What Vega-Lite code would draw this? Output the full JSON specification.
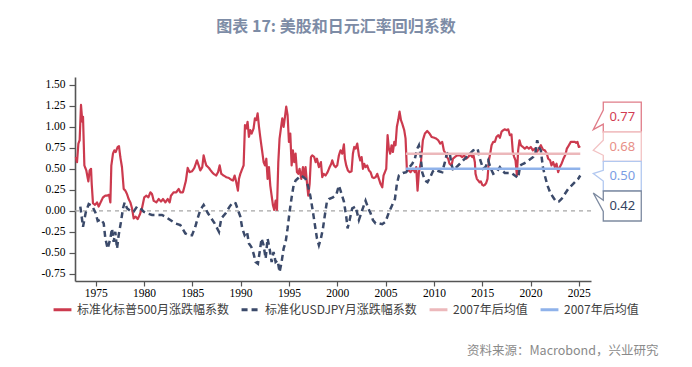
{
  "$schema": "https://vega.github.io/schema/vega-lite/v6.json",
  "width": 516,
  "height": 204,
  "autosize": {"type": "none"},
  "padding": {"left": 75, "top": 77, "right": 101, "bottom": 86},
  "background": "white",
  "title": {
    "text": "图表 17: 美股和日元汇率回归系数",
    "anchor": "middle",
    "frame": "group",
    "font": "Noto Sans CJK SC",
    "fontSize": 16,
    "fontWeight": "bold",
    "color": "#7d8ca6",
    "offset": 42,
    "dx": 3
  },
  "datasets": {
    "spx": [
      {"t":1972.95,"v":0.64},{"t":1973.07,"v":0.58},{"t":1973.21,"v":0.80},{"t":1973.34,"v":0.84},{"t":1973.48,"v":1.26},{"t":1973.62,"v":1.06},{"t":1973.69,"v":1.12},{"t":1973.83,"v":0.54},{"t":1974.03,"v":0.48},{"t":1974.24,"v":0.35},{"t":1974.38,"v":0.48},{"t":1974.52,"v":0.50},{"t":1974.59,"v":0.32},{"t":1974.72,"v":0.09},{"t":1974.93,"v":0.07},{"t":1975.14,"v":0.10},{"t":1975.31,"v":0.05},{"t":1975.55,"v":0.11},{"t":1975.76,"v":0.16},{"t":1976.00,"v":0.18},{"t":1976.17,"v":0.18},{"t":1976.38,"v":0.19},{"t":1976.52,"v":0.10},{"t":1976.62,"v":0.54},{"t":1976.79,"v":0.68},{"t":1976.93,"v":0.72},{"t":1977.07,"v":0.70},{"t":1977.28,"v":0.76},{"t":1977.41,"v":0.77},{"t":1977.55,"v":0.64},{"t":1977.72,"v":0.52},{"t":1977.90,"v":0.26},{"t":1978.07,"v":0.24},{"t":1978.24,"v":0.20},{"t":1978.41,"v":0.14},{"t":1978.59,"v":0.10},{"t":1978.76,"v":0.03},{"t":1978.93,"v":-0.09},{"t":1979.14,"v":-0.07},{"t":1979.34,"v":-0.10},{"t":1979.55,"v":-0.05},{"t":1979.79,"v":0.03},{"t":1980.03,"v":0.16},{"t":1980.24,"v":0.18},{"t":1980.45,"v":0.16},{"t":1980.66,"v":0.22},{"t":1980.83,"v":0.20},{"t":1981.00,"v":0.12},{"t":1981.28,"v":0.10},{"t":1981.52,"v":0.14},{"t":1981.76,"v":0.11},{"t":1981.97,"v":0.14},{"t":1982.21,"v":0.10},{"t":1982.45,"v":0.14},{"t":1982.66,"v":0.10},{"t":1982.79,"v":0.18},{"t":1983.07,"v":0.22},{"t":1983.34,"v":0.22},{"t":1983.59,"v":0.26},{"t":1983.76,"v":0.22},{"t":1984.03,"v":0.22},{"t":1984.21,"v":0.30},{"t":1984.34,"v":0.36},{"t":1984.52,"v":0.51},{"t":1984.72,"v":0.46},{"t":1984.97,"v":0.47},{"t":1985.21,"v":0.51},{"t":1985.48,"v":0.60},{"t":1985.66,"v":0.54},{"t":1985.83,"v":0.48},{"t":1986.03,"v":0.52},{"t":1986.17,"v":0.66},{"t":1986.34,"v":0.58},
      {"t":1986.45,"v":0.54},{"t":1986.72,"v":0.51},{"t":1986.97,"v":0.47},{"t":1987.21,"v":0.44},{"t":1987.48,"v":0.42},{"t":1987.66,"v":0.46},{"t":1987.83,"v":0.54},{"t":1988.00,"v":0.44},{"t":1988.24,"v":0.42},{"t":1988.52,"v":0.40},{"t":1988.79,"v":0.39},{"t":1989.03,"v":0.37},{"t":1989.21,"v":0.36},{"t":1989.38,"v":0.42},{"t":1989.55,"v":0.34},{"t":1989.72,"v":0.24},{"t":1989.83,"v":0.38},{"t":1989.97,"v":0.44},{"t":1990.17,"v":0.50},{"t":1990.31,"v":0.54},{"t":1990.45,"v":1.02},{"t":1990.59,"v":0.98},{"t":1990.72,"v":1.06},{"t":1990.86,"v":0.88},{"t":1991.00,"v":0.96},{"t":1991.14,"v":0.92},{"t":1991.34,"v":0.98},{"t":1991.48,"v":1.10},{"t":1991.62,"v":1.08},{"t":1991.76,"v":1.16},{"t":1991.90,"v":1.00},{"t":1992.03,"v":0.88},{"t":1992.24,"v":0.70},{"t":1992.38,"v":0.58},{"t":1992.52,"v":0.54},{"t":1992.66,"v":0.62},{"t":1992.79,"v":0.38},{"t":1992.93,"v":0.52},{"t":1993.07,"v":0.30},{"t":1993.21,"v":0.18},{"t":1993.34,"v":0.07},{"t":1993.48,"v":0.01},{"t":1993.62,"v":0.12},{"t":1993.76,"v":0.01},{"t":1993.90,"v":0.58},{"t":1994.03,"v":0.86},{"t":1994.17,"v":0.98},{"t":1994.31,"v":1.10},{"t":1994.45,"v":1.00},{"t":1994.59,"v":1.12},{"t":1994.72,"v":1.24},{"t":1994.86,"v":1.14},{"t":1995.00,"v":0.82},{"t":1995.14,"v":0.92},{"t":1995.28,"v":0.54},{"t":1995.41,"v":0.72},{"t":1995.55,"v":0.58},{"t":1995.69,"v":0.68},{"t":1995.83,"v":0.46},{"t":1995.97,"v":0.44},{"t":1996.10,"v":0.50},{"t":1996.28,"v":0.38},{"t":1996.45,"v":0.52},{"t":1996.59,"v":0.40},{"t":1996.72,"v":0.52},{"t":1996.86,"v":0.34},{"t":1997.00,"v":0.18},{"t":1997.14,"v":0.32},{"t":1997.28,"v":0.64},{"t":1997.41,"v":0.66},{"t":1997.62,"v":0.64},{"t":1997.76,"v":0.58},{"t":1997.90,"v":0.62},{"t":1998.10,"v":0.52},{"t":1998.31,"v":0.58},{"t":1998.45,"v":0.40},{"t":1998.59,"v":0.44},{"t":1998.79,"v":0.42},{"t":1999.00,"v":0.46},{"t":1999.21,"v":0.52},{"t":1999.38,"v":0.56},
      {"t":1999.48,"v":0.60},{"t":1999.66,"v":0.54},{"t":1999.83,"v":0.52},{"t":2000.00,"v":0.54},{"t":2000.17,"v":0.66},{"t":2000.34,"v":0.72},{"t":2000.52,"v":0.68},{"t":2000.69,"v":0.79},{"t":2000.79,"v":0.62},{"t":2000.93,"v":0.54},{"t":2001.10,"v":0.48},{"t":2001.28,"v":0.46},{"t":2001.48,"v":0.47},{"t":2001.62,"v":0.68},{"t":2001.76,"v":0.76},{"t":2001.90,"v":0.74},{"t":2002.07,"v":0.80},{"t":2002.24,"v":0.66},{"t":2002.38,"v":0.60},{"t":2002.52,"v":0.64},{"t":2002.66,"v":0.50},{"t":2002.79,"v":0.56},{"t":2002.93,"v":0.52},{"t":2003.10,"v":0.54},{"t":2003.28,"v":0.48},{"t":2003.45,"v":0.46},{"t":2003.62,"v":0.40},{"t":2003.79,"v":0.39},{"t":2003.97,"v":0.40},{"t":2004.14,"v":0.44},{"t":2004.31,"v":0.38},{"t":2004.48,"v":0.32},{"t":2004.66,"v":0.28},{"t":2004.79,"v":0.42},{"t":2004.93,"v":0.46},{"t":2005.07,"v":0.50},{"t":2005.21,"v":0.90},{"t":2005.34,"v":0.74},{"t":2005.48,"v":0.68},{"t":2005.62,"v":0.78},{"t":2005.76,"v":0.70},{"t":2005.90,"v":0.82},{"t":2006.03,"v":0.78},{"t":2006.17,"v":1.00},{"t":2006.31,"v":1.08},{"t":2006.45,"v":1.18},{"t":2006.59,"v":1.08},{"t":2006.72,"v":1.04},{"t":2006.93,"v":0.96},{"t":2007.07,"v":0.86},{"t":2007.21,"v":0.48},{"t":2007.41,"v":0.48},{"t":2007.59,"v":0.46},{"t":2007.83,"v":0.50},{"t":2008.03,"v":0.46},{"t":2008.17,"v":0.52},{"t":2008.31,"v":0.24},{"t":2008.45,"v":0.46},{"t":2008.66,"v":0.58},{"t":2008.86,"v":0.84},{"t":2009.07,"v":0.92},{"t":2009.31,"v":0.95},{"t":2009.55,"v":0.92},{"t":2009.76,"v":0.88},{"t":2010.03,"v":0.87},{"t":2010.24,"v":0.86},{"t":2010.45,"v":0.84},{"t":2010.66,"v":0.80},{"t":2010.86,"v":0.82},{"t":2011.03,"v":0.72},{"t":2011.21,"v":0.68},{"t":2011.34,"v":0.64},{"t":2011.48,"v":0.62},{"t":2011.62,"v":0.56},{"t":2011.83,"v":0.54},{"t":2011.97,"v":0.62},{"t":2012.17,"v":0.64},{"t":2012.41,"v":0.66},
      {"t":2012.69,"v":0.66},{"t":2012.93,"v":0.64},{"t":2013.14,"v":0.66},{"t":2013.34,"v":0.62},{"t":2013.55,"v":0.64},{"t":2013.76,"v":0.67},{"t":2013.97,"v":0.64},{"t":2014.10,"v":0.66},{"t":2014.24,"v":0.58},{"t":2014.31,"v":0.44},{"t":2014.45,"v":0.38},{"t":2014.59,"v":0.36},{"t":2014.72,"v":0.34},{"t":2014.86,"v":0.35},{"t":2015.00,"v":0.31},{"t":2015.14,"v":0.30},{"t":2015.28,"v":0.31},{"t":2015.41,"v":0.33},{"t":2015.55,"v":0.38},{"t":2015.69,"v":0.60},{"t":2015.83,"v":0.68},{"t":2015.97,"v":0.78},{"t":2016.14,"v":0.82},{"t":2016.31,"v":0.82},{"t":2016.48,"v":0.88},{"t":2016.66,"v":0.90},{"t":2016.83,"v":0.87},{"t":2017.00,"v":0.94},{"t":2017.17,"v":0.96},{"t":2017.34,"v":0.97},{"t":2017.52,"v":0.96},{"t":2017.69,"v":0.97},{"t":2017.86,"v":0.90},{"t":2018.03,"v":0.91},{"t":2018.17,"v":0.70},{"t":2018.31,"v":0.64},{"t":2018.45,"v":0.60},{"t":2018.59,"v":0.42},{"t":2018.72,"v":0.72},{"t":2018.86,"v":0.84},{"t":2019.00,"v":0.78},{"t":2019.21,"v":0.76},{"t":2019.41,"v":0.74},{"t":2019.62,"v":0.76},{"t":2019.83,"v":0.74},{"t":2020.03,"v":0.76},{"t":2020.24,"v":0.72},{"t":2020.45,"v":0.74},{"t":2020.66,"v":0.70},{"t":2020.86,"v":0.74},{"t":2021.07,"v":0.78},{"t":2021.28,"v":0.73},{"t":2021.48,"v":0.72},{"t":2021.69,"v":0.68},{"t":2021.83,"v":0.62},{"t":2022.03,"v":0.60},{"t":2022.17,"v":0.54},{"t":2022.34,"v":0.58},{"t":2022.52,"v":0.52},{"t":2022.69,"v":0.56},{"t":2022.86,"v":0.46},{"t":2023.03,"v":0.52},{"t":2023.21,"v":0.56},{"t":2023.41,"v":0.62},{"t":2023.62,"v":0.67},{"t":2023.76,"v":0.74},{"t":2023.97,"v":0.78},{"t":2024.17,"v":0.82},{"t":2024.38,"v":0.82},{"t":2024.59,"v":0.82},{"t":2024.72,"v":0.81},{"t":2024.86,"v":0.82},{"t":2025.00,"v":0.76},{"t":2025.15,"v":0.77}
    ],
    "jpy": [
      {"t":1973.41,"v":0.05},{"t":1973.69,"v":-0.19},{"t":1973.97,"v":-0.02},{"t":1974.28,"v":0.08},{"t":1974.62,"v":0.06},{"t":1974.97,"v":-0.02},{"t":1975.21,"v":-0.12},{"t":1975.55,"v":-0.10},{"t":1975.83,"v":-0.15},{"t":1976.00,"v":-0.33},{"t":1976.24,"v":-0.45},{"t":1976.52,"v":-0.33},{"t":1976.69,"v":-0.21},{"t":1976.86,"v":-0.37},{"t":1977.03,"v":-0.25},{"t":1977.21,"v":-0.45},{"t":1977.38,"v":-0.29},{"t":1977.62,"v":-0.13},{"t":1977.83,"v":0.03},{"t":1978.00,"v":0.10},{"t":1978.24,"v":0.03},{"t":1978.59,"v":0.00},{"t":1978.93,"v":-0.01},{"t":1979.28,"v":0.05},{"t":1979.62,"v":0.03},{"t":1979.97,"v":-0.01},{"t":1980.31,"v":-0.03},{"t":1980.83,"v":-0.05},{"t":1981.34,"v":-0.05},{"t":1981.86,"v":-0.05},{"t":1982.21,"v":-0.07},{"t":1982.72,"v":-0.11},{"t":1983.24,"v":-0.15},{"t":1983.76,"v":-0.17},{"t":1984.28,"v":-0.27},{"t":1984.62,"v":-0.29},{"t":1984.97,"v":-0.29},{"t":1985.31,"v":-0.19},{"t":1985.55,"v":-0.09},{"t":1985.83,"v":0.01},{"t":1986.17,"v":0.07},{"t":1986.62,"v":-0.03},{"t":1987.31,"v":-0.15},{"t":1987.76,"v":-0.25},{"t":1988.00,"v":-0.09},{"t":1988.45,"v":-0.03},{"t":1988.86,"v":0.05},{"t":1989.21,"v":0.10},{"t":1989.48,"v":0.09},{"t":1989.72,"v":0.01},{"t":1989.97,"v":-0.07},{"t":1990.17,"v":-0.21},{"t":1990.41,"v":-0.29},{"t":1990.66,"v":-0.25},{"t":1990.86,"v":-0.39},{"t":1991.10,"v":-0.43},{"t":1991.34,"v":-0.51},{"t":1991.55,"v":-0.61},{"t":1991.79,"v":-0.63},{"t":1991.97,"v":-0.49},{"t":1992.17,"v":-0.33},{"t":1992.38,"v":-0.41},{"t":1992.59,"v":-0.57},{"t":1992.79,"v":-0.33},{"t":1993.00,"v":-0.45},{"t":1993.21,"v":-0.61},{"t":1993.41,"v":-0.49},{"t":1993.62,"v":-0.61},{"t":1993.83,"v":-0.59},{"t":1994.03,"v":-0.73},{"t":1994.24,"v":-0.61},{"t":1994.45,"v":-0.45},{"t":1994.66,"v":-0.37},{"t":1994.86,"v":-0.21},{"t":1995.07,"v":-0.01},{"t":1995.28,"v":0.16},{"t":1995.48,"v":0.30},{"t":1995.69,"v":0.36},{"t":1995.97,"v":0.39},{"t":1996.24,"v":0.42},{"t":1996.52,"v":0.40},{"t":1996.72,"v":0.38},{"t":1996.97,"v":0.30},{"t":1997.21,"v":0.18},{"t":1997.48,"v":-0.01},{"t":1997.69,"v":-0.17},{"t":1997.90,"v":-0.33},{"t":1998.10,"v":-0.41},{"t":1998.31,"v":-0.33},{"t":1998.52,"v":-0.21},{"t":1998.72,"v":-0.05},{"t":1998.93,"v":0.11},{"t":1999.14,"v":0.14},{"t":1999.55,"v":0.16},{"t":1999.90,"v":0.19},{"t":2000.17,"v":0.30},{"t":2000.34,"v":0.24},{"t":2000.69,"v":0.11},{"t":2000.93,"v":-0.07},{"t":2001.07,"v":-0.21},{"t":2001.28,"v":-0.11},{"t":2001.55,"v":0.03},{"t":2001.90,"v":0.05},{"t":2002.24,"v":-0.11},{"t":2002.59,"v":0.01},{"t":2002.93,"v":0.12},{"t":2003.21,"v":0.03},{"t":2003.45,"v":-0.03},{"t":2003.69,"v":-0.11},{"t":2003.97,"v":-0.15},{"t":2004.31,"v":-0.15},{"t":2004.66,"v":-0.16},{"t":2005.00,"v":-0.13},{"t":2005.34,"v":-0.02},{"t":2005.69,"v":0.07},{"t":2005.97,"v":0.14},{"t":2006.17,"v":0.32},{"t":2006.38,"v":0.42},{"t":2006.79,"v":0.45},{"t":2007.14,"v":0.46},{"t":2007.48,"v":0.52},{"t":2007.76,"v":0.56},{"t":2008.03,"v":0.62},{"t":2008.28,"v":0.74},{"t":2008.45,"v":0.78},{"t":2008.62,"v":0.66},{"t":2008.79,"v":0.46},{"t":2009.07,"v":0.36},{"t":2009.34,"v":0.34},{"t":2009.62,"v":0.40},{"t":2009.90,"v":0.47},{"t":2010.17,"v":0.49},{"t":2010.52,"v":0.47},{"t":2010.86,"v":0.46},{"t":2011.14,"v":0.58},{"t":2011.34,"v":0.68},{"t":2011.62,"v":0.70},{"t":2011.83,"v":0.55},{"t":2012.00,"v":0.48},{"t":2012.34,"v":0.52},{"t":2012.69,"v":0.56},{"t":2013.03,"v":0.60},{"t":2013.38,"v":0.64},{"t":2013.72,"v":0.68},{"t":2014.07,"v":0.72},{"t":2014.52,"v":0.74},{"t":2014.76,"v":0.62},{"t":2015.10,"v":0.50},{"t":2015.34,"v":0.52},{"t":2015.62,"v":0.60},{"t":2015.90,"v":0.50},{"t":2016.14,"v":0.44},{"t":2016.48,"v":0.46},{"t":2016.83,"v":0.52},{"t":2017.07,"v":0.48},{"t":2017.34,"v":0.45},{"t":2017.69,"v":0.45},{"t":2018.03,"v":0.45},{"t":2018.38,"v":0.42},{"t":2018.72,"v":0.39},{"t":2018.93,"v":0.54},{"t":2019.24,"v":0.56},{"t":2019.59,"v":0.58},{"t":2019.93,"v":0.61},{"t":2020.28,"v":0.64},{"t":2020.52,"v":0.70},{"t":2020.69,"v":0.84},{"t":2020.86,"v":0.76},{"t":2021.07,"v":0.72},{"t":2021.28,"v":0.52},{"t":2021.48,"v":0.42},{"t":2021.76,"v":0.30},{"t":2022.03,"v":0.22},{"t":2022.34,"v":0.16},{"t":2022.66,"v":0.11},{"t":2022.93,"v":0.11},{"t":2023.21,"v":0.14},{"t":2023.55,"v":0.20},{"t":2023.90,"v":0.26},{"t":2024.24,"v":0.30},{"t":2024.59,"v":0.34},{"t":2024.93,"v":0.38},{"t":2025.15,"v":0.42}
    ],
    "avg": [
      {"series": "2007年后均值（标普500）", "start": 2007.1, "end": 2025.15, "value": 0.68},
      {"series": "2007年后均值（USDJPY）", "start": 2007.1, "end": 2025.15, "value": 0.50}
    ],
    "callouts": [
      {"label": "0.77", "t": 2025.15, "value": 0.77},
      {"label": "0.68", "t": 2025.15, "value": 0.68},
      {"label": "0.50", "t": 2025.15, "value": 0.50},
      {"label": "0.42", "t": 2025.15, "value": 0.42}
    ]
  },
  "layer": [
    {
      "data": {"values": [{"v": 0}]},
      "mark": {"type": "rule", "color": "#a6a6a6", "strokeDash": [4, 4], "strokeWidth": 1.3},
      "encoding": {
        "y": {
          "field": "v", "type": "quantitative",
          "scale": {"domain": [-0.836, 1.593], "nice": false, "zero": false},
          "axis": {
            "values": [-0.75, -0.5, -0.25, 0, 0.25, 0.5, 0.75, 1, 1.25, 1.5],
            "tickCount": 30,
            "format": ".2f",
            "labelPadding": 4, "labelFlush": false,
            "tickSize": 6, "title": null
          }
        }
      }
    },
    {
      "data": {"name": "spx"},
      "mark": {"type": "line", "strokeWidth": 2.2, "strokeJoin": "round"},
      "encoding": {
        "x": {
          "field": "t", "type": "quantitative",
          "scale": {"domain": [1972.86, 2026.26], "nice": false, "zero": false},
          "axis": {
            "values": [1975, 1980, 1985, 1990, 1995, 2000, 2005, 2010, 2015, 2020, 2025],
            "tickCount": 30,
            "format": "d",
            "labelPadding": 1, "labelFlush": false,
            "tickSize": 5,
            "title": "资料来源：Macrobond，兴业研究",
            "titleX": 583, "titleY": 69, "titleAlign": "right", "titleBaseline": "middle",
            "titleFont": "Noto Sans CJK SC", "titleFontSize": 12.5, "titleFontWeight": "normal", "titleColor": "#8a8a8a"
          }
        },
        "y": {
          "field": "v", "type": "quantitative",
          "axis": {
            "values": [-0.75, -0.5, -0.25, 0, 0.25, 0.5, 0.75, 1, 1.25, 1.5],
            "tickCount": 30,
            "format": ".2f",
            "labelPadding": 4, "labelFlush": false,
            "tickSize": 6, "title": null
          }
        },
        "color": {
          "datum": "标准化标普500月涨跌幅系数", "type": "nominal",
          "scale": {
            "domain": ["标准化标普500月涨跌幅系数", "标准化USDJPY月涨跌幅系数", "2007年后均值（标普500）", "2007年后均值（USDJPY）"],
            "range": ["#cc3a4e", "#3b4a6a", "#ecb8bb", "#8fb2ea"]
          },
          "legend": {
            "orient": "none", "legendX": -23, "legendY": 222, "direction": "horizontal", "columns": 4,
            "title": null, "symbolType": "stroke", "symbolStrokeWidth": 3, "symbolSize": 320,
            "labelFont": "Noto Sans CJK SC", "labelFontSize": 12, "labelColor": "#404040",
            "columnPadding": 6, "labelOffset": 4,
            "labelExpr": "split(datum.label, '（')[0]"
          }
        },
        "strokeDash": {
          "datum": "标准化标普500月涨跌幅系数", "type": "nominal",
          "scale": {
            "domain": ["标准化标普500月涨跌幅系数", "标准化USDJPY月涨跌幅系数", "2007年后均值（标普500）", "2007年后均值（USDJPY）"],
            "range": [[1, 0], [6, 4], [1, 0], [1, 0]]
          },
          "legend": {
            "orient": "none", "legendX": -23, "legendY": 222, "direction": "horizontal", "columns": 4,
            "title": null, "symbolType": "stroke", "symbolStrokeWidth": 3, "symbolSize": 320,
            "labelFont": "Noto Sans CJK SC", "labelFontSize": 12, "labelColor": "#404040",
            "columnPadding": 6, "labelOffset": 4,
            "labelExpr": "split(datum.label, '（')[0]"
          }
        }
      }
    },
    {
      "data": {"name": "jpy"},
      "mark": {"type": "line", "strokeWidth": 2.5},
      "encoding": {
        "x": {"field": "t", "type": "quantitative"},
        "y": {"field": "v", "type": "quantitative"},
        "color": {"datum": "标准化USDJPY月涨跌幅系数", "type": "nominal", "legend": {"title": null}},
        "strokeDash": {"datum": "标准化USDJPY月涨跌幅系数", "type": "nominal", "legend": {"title": null}}
      }
    },
    {
      "data": {"name": "avg"},
      "mark": {"type": "rule", "strokeWidth": 2.5},
      "encoding": {
        "x": {"field": "start", "type": "quantitative"},
        "x2": {"field": "end"},
        "y": {"field": "value", "type": "quantitative"},
        "color": {"field": "series", "type": "nominal", "title": null, "legend": {"title": null}},
        "strokeDash": {"field": "series", "type": "nominal", "title": null, "legend": {"title": null}}
      }
    },
    {
      "data": {"name": "callouts"},
      "mark": {"type": "point", "filled": true, "fill": "white", "size": 4, "strokeWidth": 1.3, "opacity": 1},
      "encoding": {
        "x": {"field": "t", "type": "quantitative"},
        "y": {"field": "value", "type": "quantitative"},
        "shape": {
          "field": "label", "type": "nominal",
          "scale": {
            "domain": ["0.77", "0.68", "0.50", "0.42"],
            "range": [
              "M23,-44H61V-14H23V-22L13,-16.5L23,-36Z",
              "M23,-21.7H61V7.6H23V1.6L13,-3.4L23,-13.4Z",
              "M23,-7.5H61V22.2H23V12.2L13,4.8L23,1.5Z",
              "M23,15.5H61V45.5H23V36L13,17.5L23,24.8Z"
            ]
          },
          "legend": null
        },
        "stroke": {
          "field": "label", "type": "nominal",
          "scale": {"domain": ["0.77", "0.68", "0.50", "0.42"], "range": ["#e07c88", "#f2c2c3", "#b2c8f0", "#7d8aa0"]},
          "legend": null
        }
      }
    },
    {
      "data": {"name": "callouts"},
      "transform": [{"filter": "datum.label == '0.77'"}],
      "mark": {"type": "text", "dx": 42, "dy": -29, "align": "center", "baseline": "middle", "font": "Noto Sans", "fontSize": 13, "color": "#d23c52"},
      "encoding": {"x": {"field": "t", "type": "quantitative"}, "y": {"field": "value", "type": "quantitative"}, "text": {"field": "label"}}
    },
    {
      "data": {"name": "callouts"},
      "transform": [{"filter": "datum.label == '0.68'"}],
      "mark": {"type": "text", "dx": 42, "dy": -7, "align": "center", "baseline": "middle", "font": "Noto Sans", "fontSize": 13, "color": "#e89088"},
      "encoding": {"x": {"field": "t", "type": "quantitative"}, "y": {"field": "value", "type": "quantitative"}, "text": {"field": "label"}}
    },
    {
      "data": {"name": "callouts"},
      "transform": [{"filter": "datum.label == '0.50'"}],
      "mark": {"type": "text", "dx": 42, "dy": 7.5, "align": "center", "baseline": "middle", "font": "Noto Sans", "fontSize": 13, "color": "#7b9de4"},
      "encoding": {"x": {"field": "t", "type": "quantitative"}, "y": {"field": "value", "type": "quantitative"}, "text": {"field": "label"}}
    },
    {
      "data": {"name": "callouts"},
      "transform": [{"filter": "datum.label == '0.42'"}],
      "mark": {"type": "text", "dx": 42, "dy": 30.5, "align": "center", "baseline": "middle", "font": "Noto Sans", "fontSize": 13, "color": "#34435f"},
      "encoding": {"x": {"field": "t", "type": "quantitative"}, "y": {"field": "value", "type": "quantitative"}, "text": {"field": "label"}}
    }
  ],
  "config": {
    "view": {"stroke": null},
    "locale": {"number": {"decimal": ".", "thousands": ",", "grouping": [3], "currency": ["", ""], "minus": "-"}},
    "axis": {
      "labelFont": "Liberation Serif", "labelFontSize": 11.5, "labelColor": "#000000",
      "labelOverlap": false, "labelBound": false,
      "tickColor": "#555555", "tickWidth": 1.2,
      "domainColor": "#555555", "domainWidth": 1.6, "grid": false
    }
  }
}
